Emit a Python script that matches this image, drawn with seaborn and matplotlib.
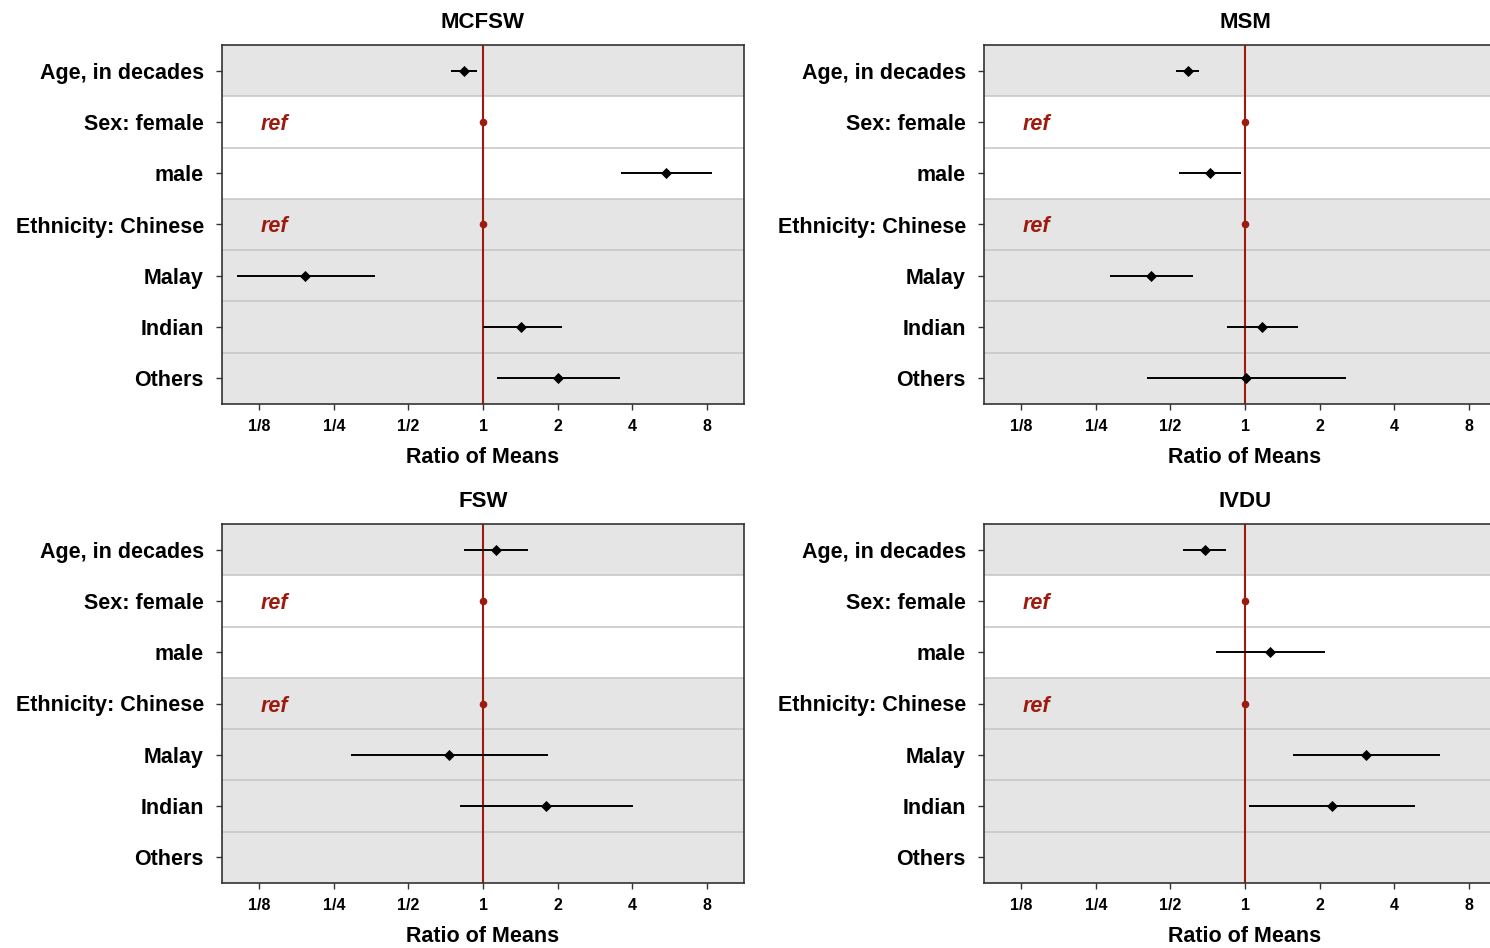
import numpy as np
import pandas as pd
import matplotlib
matplotlib.use('Agg')
import matplotlib.pyplot as plt
import seaborn as sns

# righe del forest plot (dall'alto verso il basso)
terms = ['Age, in decades', 'Sex: female', 'male', 'Ethnicity: Chinese',
         'Malay', 'Indian', 'Others']
ref_rows = ['Sex: female', 'Ethnicity: Chinese']
panels = ['MCFSW', 'MSM', 'FSW', 'IVDU']

nan = np.nan
# ratio of means stimati, con intervallo (lo, hi); nan = ref o non stimato
mcfsw_est = [0.84, 1.0, 5.46, 1.0, 0.192, 1.42, 2.01]
mcfsw_lo = [0.74, nan, 3.61, nan, 0.102, 1.00, 1.14]
mcfsw_hi = [0.95, nan, 8.40, nan, 0.366, 2.08, 3.58]

msm_est = [0.586, 1.0, 0.722, 1.0, 0.418, 1.173, 1.014]
msm_lo = [0.525, nan, 0.543, nan, 0.285, 0.847, 0.403]
msm_hi = [0.655, nan, 0.966, nan, 0.616, 1.636, 2.567]

fsw_est = [1.13, 1.0, nan, 1.0, 0.732, 1.80, nan]
fsw_lo = [0.835, nan, nan, nan, 0.293, 0.807, nan]
fsw_hi = [1.526, nan, nan, nan, 1.828, 4.03, nan]

ivdu_est = [0.688, 1.0, 1.257, 1.0, 3.07, 2.25, nan]
ivdu_lo = [0.563, nan, 0.763, nan, 1.569, 1.035, nan]
ivdu_hi = [0.841, nan, 2.10, nan, 6.10, 4.86, nan]

tick_vals = [1/8, 1/4, 1/2, 1, 2, 4, 8]
tick_labels = ['1/8', '1/4', '1/2', '1', '2', '4', '8']

dati = {
    'MCFSW': (mcfsw_est, mcfsw_lo, mcfsw_hi),
    'MSM': (msm_est, msm_lo, msm_hi),
    'FSW': (fsw_est, fsw_lo, fsw_hi),
    'IVDU': (ivdu_est, ivdu_lo, ivdu_hi),
}

sns.set_theme(style='white')
plt.rcParams['font.family'] = ['Liberation Sans', 'DejaVu Sans']
plt.rcParams['font.weight'] = 'bold'
plt.rcParams['text.color'] = 'black'
plt.rcParams['axes.labelcolor'] = 'black'
plt.rcParams['xtick.labelcolor'] = 'black'
plt.rcParams['ytick.labelcolor'] = 'black'

rosso = '#9c1a0e'
grigio = '#e5e5e5'

fig = plt.figure(figsize=(14.9, 9.48), dpi=100)
W, H = 1490, 948
pos = {
    'MCFSW': (222, 45), 'MSM': (984, 45),
    'FSW': (222, 524), 'IVDU': (984, 524),
}
aw, ah = 522, 359

for nome in panels:
    x0, y0 = pos[nome]
    ax = fig.add_axes([x0 / W, 1 - (y0 + ah) / H, aw / W, ah / H])
    est, lo, hi = dati[nome]
    df = pd.DataFrame({'term': terms, 'row': np.arange(len(terms)),
                       'est': est, 'lo': lo, 'hi': hi})
    df['is_ref'] = df['term'].isin(ref_rows)

    # bande di sfondo
    ax.axhspan(-0.5, 0.5, color=grigio, zorder=0, lw=0)
    ax.axhspan(2.5, 6.5, color=grigio, zorder=0, lw=0)
    for yy in np.arange(0.5, 6.0, 1.0):
        ax.axhline(yy, color='#c8c8c8', lw=1.2, zorder=1)

    ax.axvline(1, color=rosso, lw=1.5, zorder=2)

    stime = df[~df['is_ref']].dropna()
    ax.hlines(stime['row'], stime['lo'], stime['hi'], color='black', lw=1.4, zorder=3)
    sns.scatterplot(data=stime, x='est', y='row', marker='D', color='black',
                    s=32, edgecolor='black', linewidth=0, zorder=4, ax=ax)
    refs = df[df['is_ref']]
    sns.scatterplot(data=refs, x='est', y='row', marker='o', color=rosso,
                    s=30, edgecolor=rosso, linewidth=0, zorder=4, ax=ax)
    for r in refs['row']:
        ax.text(2 ** -2.98, r, 'ref', color=rosso, fontsize=15.5,
                fontweight='bold', fontstyle='italic', ha='left',
                va='center_baseline')

    ax.set_xscale('log', base=2)
    ax.set_xlim(2 ** -3.5, 2 ** 3.5)
    ax.set_ylim(6.5, -0.5)
    ax.set_xticks(tick_vals)
    ax.set_xticklabels(tick_labels, fontsize=11.5, fontweight='bold')
    ax.minorticks_off()
    ax.set_yticks(df['row'])
    ax.set_yticklabels(terms, fontsize=15.5, fontweight='bold')
    ax.tick_params(axis='both', which='major', length=4, width=1, color='#333333',
                   direction='out', bottom=True, left=True)
    ax.tick_params(axis='y', pad=9)
    ax.tick_params(axis='x', pad=7)
    ax.set_xlabel('Ratio of Means', fontsize=15.5, fontweight='bold', labelpad=9)
    ax.set_ylabel('')
    ax.set_title(nome, fontsize=16, fontweight='bold', pad=12)
    for sp in ax.spines.values():
        sp.set_color('#333333')
        sp.set_linewidth(1.2)
        sp.set_zorder(5)

plt.savefig('out.png', dpi=100)
plt.close()
